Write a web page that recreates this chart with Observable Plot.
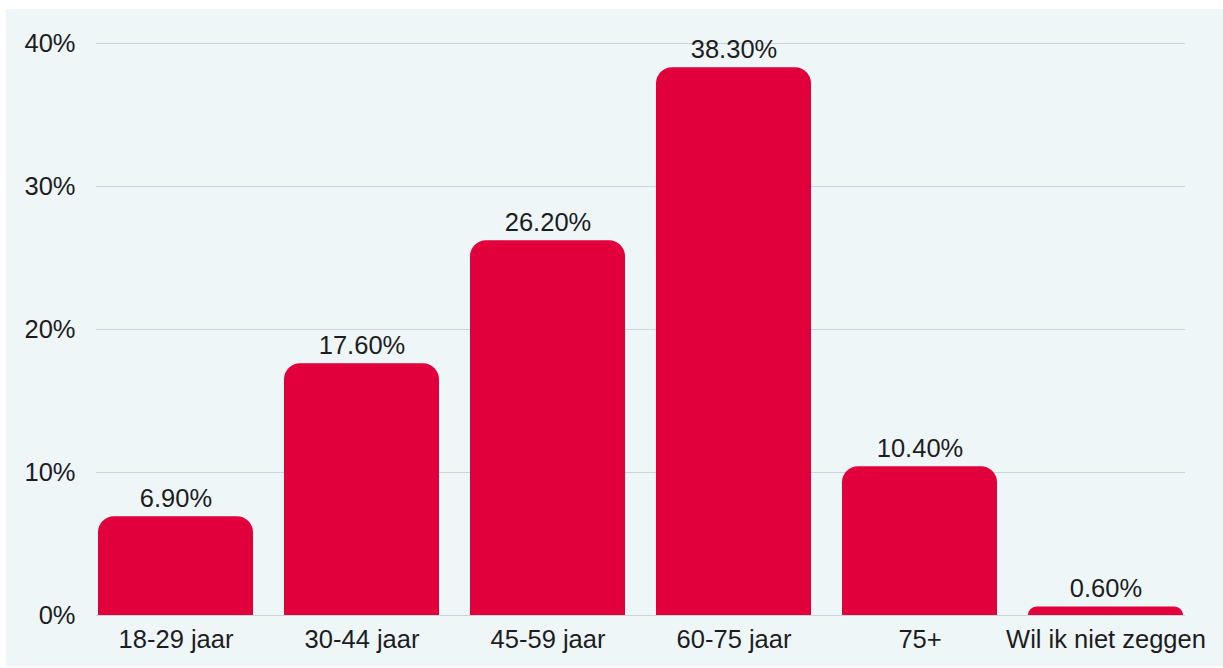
<!DOCTYPE html>
<html>
<head>
<meta charset="utf-8">
<script src="https://cdn.jsdelivr.net/npm/d3@7"></script>
<script src="https://cdn.jsdelivr.net/npm/@observablehq/plot@0.6"></script>
<style>
  html, body { margin: 0; padding: 0; background: #ffffff; }
  #wrap { position: relative; width: 1223px; height: 668px; overflow: hidden; }
  #panel { position: absolute; left: 6px; top: 9px; width: 1217px; height: 657px; background: #eef6f8; }
  #chart { position: absolute; left: 0; top: 0; }
</style>
</head>
<body>
<div id="wrap"><div id="panel"></div><div id="chart"></div></div>
<script>
const categories = ["18-29 jaar", "30-44 jaar", "45-59 jaar", "60-75 jaar", "75+", "Wil ik niet zeggen"];
const values = [6.9, 17.6, 26.2, 38.3, 10.4, 0.6];
const yTicks = [0, 10, 20, 30, 40];

const data = categories.map((c, i) => ({category: c, value: values[i]}));
const fmt = v => v.toFixed(2) + "%";

const chart = Plot.plot({
  width: 1223,
  height: 668,
  marginLeft: 96,
  marginRight: 38,
  marginTop: 43,
  marginBottom: 53,
  style: {
    background: "transparent",
    fontFamily: "'Liberation Sans', Arial, sans-serif",
    fontSize: "25.5px",
    color: "#1d1d1f"
  },
  x: {domain: categories, paddingInner: 0.164, paddingOuter: 0, label: null},
  y: {domain: [0, 40], label: null},
  marks: [
    Plot.gridY(yTicks, {stroke: "#c9d3d8", strokeOpacity: 1, strokeWidth: 1}),
    Plot.axisY({ticks: yTicks, tickSize: 0, tickPadding: 21, tickFormat: d => d + "%", fontSize: 25.5, label: null}),
    Plot.axisX({tickSize: 0, tickPadding: 14, fontSize: 25.5, label: null}),
    Plot.barY(data, {x: "category", y: "value", fill: "#e2003c", inset: 0, rx1y1: 16, rx2y1: 16}),
    Plot.text(data, {x: "category", y: "value", text: d => fmt(d.value), lineAnchor: "bottom", dy: -10, fontSize: 25.5, fill: "#1d1d1f"})
  ]
});
document.getElementById("chart").appendChild(chart);
</script>
</body>
</html>
